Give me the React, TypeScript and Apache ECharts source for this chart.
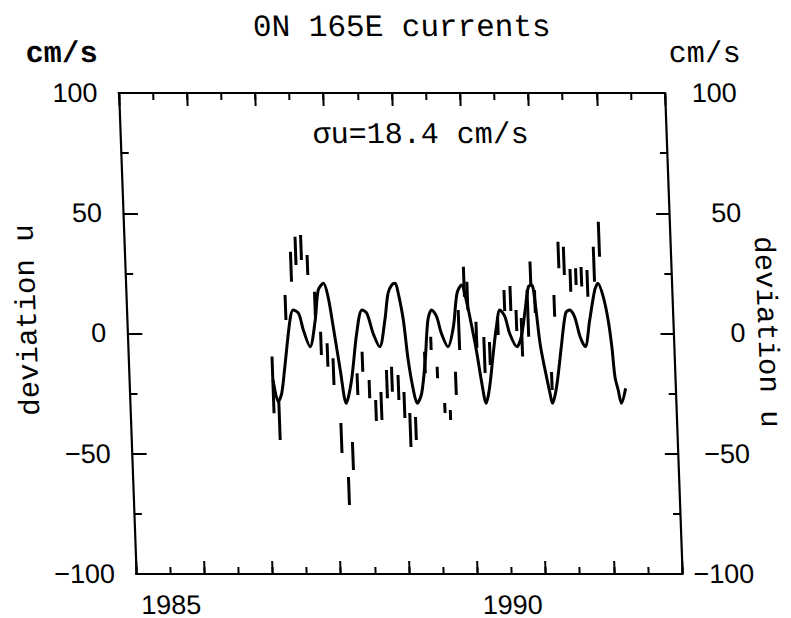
import React, { useEffect, useRef } from "react";
import * as echarts from "echarts";

// Smooth (seasonal) curve: decimal year and deviation u (cm/s)
const curveYears = [
  1987.11, 1987.175, 1987.23, 1987.29, 1987.39, 1987.44, 1987.52, 1987.58, 1987.67, 1987.76,
  1987.82, 1987.9, 1987.96, 1988.02, 1988.1, 1988.17, 1988.26, 1988.36, 1988.45, 1988.52,
  1988.6, 1988.69, 1988.78, 1988.84, 1988.9, 1988.95, 1988.99, 1989.05, 1989.1, 1989.16,
  1989.21, 1989.28, 1989.35, 1989.41, 1989.47, 1989.54, 1989.6, 1989.69, 1989.78, 1989.85,
  1989.92, 1989.99, 1990.05, 1990.11, 1990.16, 1990.22, 1990.28, 1990.35, 1990.41, 1990.47,
  1990.54, 1990.6, 1990.7, 1990.77, 1990.84, 1990.9, 1990.95, 1990.99, 1991.04, 1991.1,
  1991.16, 1991.19, 1991.26, 1991.35, 1991.43, 1991.49, 1991.56, 1991.63, 1991.7, 1991.78,
  1991.87, 1991.92, 1991.99, 1992.05, 1992.09, 1992.12, 1992.16, 1992.2, 1992.27,
];
const curveValues = [
  -19.3, -28.4, -24.9, -13.8, 5.6, 9.8, 8.4, 1.5, -5.5, 5.6,
  18.1, 20.9, 15.3, 2.8, -15.2, -29.0, -19.3, 0.1, 9.8, 8.4,
  0.1, -5.5, 5.6, 16.7, 20.2, 20.9, 16.7, 5.6, -11.0, -23.5,
  -29.0, -24.9, -11.0, 5.6, 9.8, 7.0, 0.1, -5.5, 2.8, 16.7,
  20.2, 12.6, 2.8, -8.2, -19.3, -29.0, -22.1, -8.2, 2.8, 9.8,
  7.0, 0.1, -5.5, -1.3, 9.8, 19.5, 20.2, 12.6, -4.1, -15.2,
  -24.9, -29.0, -22.1, -5.5, 8.4, 9.8, 7.0, -1.3, -5.5, 5.6,
  18.1, 20.9, 15.3, 5.6, -5.5, -18.0, -23.5, -29.0, -22.8,
];

// Observed ranges drawn as vertical bars
const barYears = [
  1987.107, 1987.183, 1987.331, 1987.433, 1987.508, 1987.59, 1987.675, 1987.764, 1987.832, 1987.921,
  1988.0, 1988.081, 1988.163, 1988.24, 1988.344, 1988.429, 1988.517, 1988.602, 1988.684, 1988.776,
  1988.852, 1988.943, 1989.021, 1989.095, 1989.177, 1989.344, 1989.442, 1989.521, 1989.612, 1989.69,
  1989.786, 1989.859, 1989.958, 1990.001, 1990.113, 1990.22, 1990.3, 1990.432, 1990.54, 1990.63,
  1990.706, 1990.778, 1990.878, 1990.936, 1990.987, 1991.193, 1991.269, 1991.356, 1991.433, 1991.518,
  1991.6, 1991.681, 1991.766, 1991.871, 1991.958,
];
const barLow = [
  -33.2, -44.3, 5.6, 21.5, 28.5, 30.6, 24.3, 7.0, -8.9, -13.8,
  -21.4, -49.7, -71.3, -56.8, -25.6, -15.9, -26.9, -36.4, -36.0, -26.9,
  -24.2, -27.7, -35.1, -47.2, -44.3, -16.5, -6.9, -18.6, -33.1, -36.0,
  -25.6, -6.9, 15.3, 9.8, -6.0, -16.4, -13.1, -0.6, 9.4, 9.4,
  1.0, -9.6, -1.3, 19.5, 8.5, -23.5, 7.0, 27.1, 24.3, 17.4,
  20.2, 19.5, 15.3, 21.5, 31.9,
];
const barHigh = [
  -9.6, -28.4, 16.0, 34.0, 40.2, 41.0, 32.6, 17.4, 0.7, -4.1,
  -10.3, -37.2, -59.7, -45.1, -16.5, -7.6, -19.3, -27.6, -24.3, -15.2,
  -13.8, -17.3, -24.3, -33.1, -34.7, -7.6, -1.3, -13.8, -28.9, -31.8,
  -15.9, 9.8, 27.8, 21.5, 4.9, -1.5, -3.5, 7.0, 18.1, 19.8,
  9.8, 6.4, 18.1, 29.9, 18.1, -16.0, 16.0, 38.2, 36.1, 26.8,
  27.1, 27.6, 26.4, 36.1, 46.5,
];

const xMin = 1985;
const xMax = 1993;
const yMin = -100;
const yMax = 100;
const xLabelAt: Record<string, string> = { "1985.5": "1985", "1990.5": "1990" };

const titleText = "0N 165E currents";
const unitText = "cm/s";
const sigmaText = "\u03c3u=18.4 cm/s";
const axisName = "deviation u";

export default function App() {
  const ref = useRef<HTMLDivElement>(null);

  useEffect(() => {
    if (!ref.current) return;
    const chart = echarts.init(ref.current, null, { renderer: "svg" });
    const black = "#000";
    const mono = "'Liberation Mono', 'DejaVu Sans Mono', monospace";
    const sans = "'Liberation Sans', 'DejaVu Sans', sans-serif";

    const yFmt = (v: number) =>
      v % 50 === 0 ? (v < 0 ? "\u2212" + Math.abs(v) : String(v)) : "";

    const xAxisDef = (position: string, interval: number, len: number, main: boolean, labels: boolean) => ({
      type: "value",
      position,
      min: xMin,
      max: xMax,
      interval,
      axisLine: { show: main, onZero: false, lineStyle: { color: black, width: 2.2 } },
      axisTick: { show: true, inside: true, length: len, lineStyle: { color: black, width: 2 } },
      axisLabel: labels
        ? {
            show: true,
            margin: 17,
            color: black,
            fontFamily: sans,
            fontSize: 27,
            formatter: (v: number) => xLabelAt[String(v)] || "",
          }
        : { show: false },
      splitLine: { show: false },
    });

    const yAxisDef = (position: string, interval: number, len: number, main: boolean, labels: boolean) => ({
      type: "value",
      position,
      min: yMin,
      max: yMax,
      interval,
      axisLine: { show: main, onZero: false, lineStyle: { color: black, width: 2.2 } },
      axisTick: { show: true, inside: true, length: len, lineStyle: { color: black, width: 2 } },
      axisLabel: labels
        ? {
            show: true,
            color: black,
            fontFamily: sans,
            fontSize: 27,
            margin: position === "left" ? 21 : 72,
            align: "right",
            formatter: yFmt,
          }
        : { show: false },
      splitLine: { show: false },
    });

    const curveData = curveYears.map((t, i) => [t, curveValues[i]]);
    const barData = barYears.map((t, i) => [t, barLow[i], barHigh[i]]);

    chart.setOption({
      animation: false,
      backgroundColor: "#fff",
      grid: { left: 126.4, right: 118.4, top: 93, bottom: 44 },
      xAxis: [
        xAxisDef("bottom", 0.5, 7, true, true),
        xAxisDef("bottom", 1, 13, false, false),
        xAxisDef("top", 0.5, 7, true, false),
        xAxisDef("top", 1, 13, false, false),
      ],
      yAxis: [
        yAxisDef("left", 25, 8, true, true),
        yAxisDef("left", 50, 15, false, false),
        yAxisDef("right", 25, 7, true, true),
        yAxisDef("right", 50, 13, false, false),
      ],
      series: [
        {
          type: "custom",
          xAxisIndex: 0,
          yAxisIndex: 0,
          data: barData,
          renderItem: (params: any, api: any) => {
            const t = api.value(0);
            const p1 = api.coord([t, api.value(2)]);
            const p2 = api.coord([t, api.value(1)]);
            return {
              type: "line",
              shape: { x1: p1[0], y1: p1[1], x2: p2[0], y2: p2[1] },
              style: { stroke: black, lineWidth: 3 },
            };
          },
        },
        {
          type: "line",
          xAxisIndex: 0,
          yAxisIndex: 0,
          data: curveData,
          showSymbol: false,
          smooth: 0.3,
          lineStyle: { color: black, width: 3 },
        },
      ],
      graphic: [
        {
          type: "text",
          x: 412,
          y: 28,
          style: { text: titleText, font: `31px ${mono}`, fill: black, align: "center", verticalAlign: "middle" },
        },
        {
          type: "text",
          x: 71,
          y: 54,
          style: { text: unitText, font: `bold 30px ${mono}`, fill: black, align: "center", verticalAlign: "middle" },
        },
        {
          type: "text",
          x: 714,
          y: 54,
          style: { text: unitText, font: `30px ${mono}`, fill: black, align: "center", verticalAlign: "middle" },
        },
        {
          type: "text",
          x: 427,
          y: 135,
          style: { text: sigmaText, font: `30px ${mono}`, fill: black, align: "center", verticalAlign: "middle" },
        },
        {
          type: "text",
          x: 28,
          y: 320,
          rotation: Math.PI / 2,
          style: { text: axisName, font: `29px ${mono}`, fill: black, align: "center", verticalAlign: "middle" },
        },
        {
          type: "text",
          x: 765,
          y: 332,
          rotation: -Math.PI / 2,
          style: { text: axisName, font: `29px ${mono}`, fill: black, align: "center", verticalAlign: "middle" },
        },
      ],
    });

    return () => chart.dispose();
  }, []);

  return (
    <div
      ref={ref}
      style={{
        position: "absolute",
        left: 0,
        top: 0,
        width: 791,
        height: 618,
        transform: "skewX(2.08deg)",
        transformOrigin: "0px 309px",
      }}
    />
  );
}
